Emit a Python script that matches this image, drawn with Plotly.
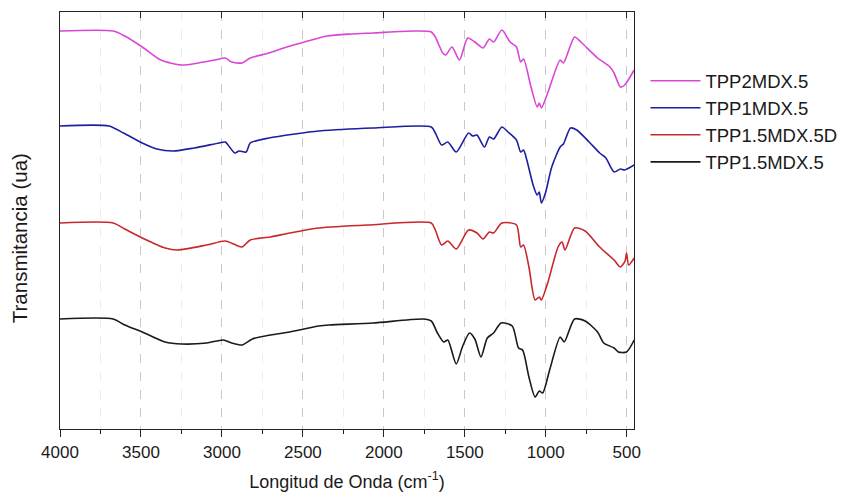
import plotly.graph_objects as go

# Wavenumber (cm^-1) and transmittance (arbitrary units, offset stacked)
wn_tpp2 = [4000, 3672, 3600, 3492, 3377, 3248, 3146, 3043, 2979, 2940, 2876, 2825, 2709, 2600, 2491, 2350, 2200, 2067,
           1810, 1707, 1682, 1636, 1618, 1579, 1533, 1482, 1438, 1387, 1348, 1322, 1271, 1220, 1181,
           1155, 1137, 1091, 1053, 1040, 1027, 988, 911, 891, 822, 783, 680, 603, 578, 539, 513, 454]
t_tpp2 = [398, 398, 393, 382, 369, 364, 366, 369, 371, 367, 366, 371, 376, 382, 387, 393, 395, 396,
          398, 397, 392, 376, 374, 382, 369, 391, 387, 381, 390, 387, 399, 387, 382,
          367, 370, 342, 322, 326, 321, 336, 369, 366, 392, 387, 371, 362, 356, 342, 344, 359]

wn_tpp1 = [4000, 3698, 3608, 3492, 3402, 3300, 3171, 3017, 2979, 2953, 2920, 2894, 2850, 2825, 2709,
           2550, 2401, 2067, 1707, 1682, 1643, 1605, 1553, 1477, 1451, 1425, 1379, 1348, 1322, 1271, 1233,
           1181, 1155, 1137, 1117, 1078, 1053, 1040, 1027, 1002, 963, 911, 891, 847, 809, 732,
           667, 629, 578, 539, 513, 454]
t_tpp1 = [303, 303, 296, 286, 280, 278, 281, 286, 287, 282, 276, 278, 277, 286, 291,
          295, 298, 301, 302, 296, 284, 287, 277, 296, 293, 294, 282, 292, 290, 302, 297,
          289, 277, 279, 269, 244, 234, 237, 226, 236, 262, 282, 285, 301, 299, 287,
          276, 271, 257, 260, 259, 264]

wn_tpp15d = [4000, 3672, 3600, 3492, 3351, 3274, 3094, 2979, 2914, 2876, 2825, 2700, 2581, 2401, 2100, 1707, 1682, 1643,
             1605, 1553, 1477, 1425, 1387, 1348, 1322, 1271, 1181, 1155, 1137, 1104, 1066, 1040, 1027,
             988, 924, 899, 881, 822, 757, 667, 578, 539, 510, 501, 488, 454]
t_tpp15d = [206, 206, 200, 191, 181, 179, 184, 188, 184, 182, 189, 192, 196, 201, 204, 206, 199, 184,
            188, 180, 199, 196, 190, 197, 196, 206, 204, 182, 184, 162, 129, 132, 129,
            146, 182, 187, 179, 201, 198, 182, 169, 162, 168, 176, 164, 171]

wn_tpp15 = [4000, 3672, 3600, 3492, 3351, 3248, 3094, 2992, 2940, 2876, 2812, 2700, 2581, 2401, 2337, 2067, 1759,
            1707, 1669, 1630, 1605, 1553, 1515, 1471, 1438, 1400, 1361, 1322, 1276, 1207, 1168, 1143,
            1104, 1066, 1040, 1019, 976, 911, 886, 822, 757, 680, 642, 578, 552, 501, 454]
t_tpp15 = [110, 110, 104, 97, 87, 85, 86, 89, 86, 84, 90, 94, 97, 103, 104, 106, 110,
           108, 96, 87, 89, 65, 82, 96, 90, 72, 91, 96, 106, 103, 81, 79,
           52, 32, 38, 36, 59, 92, 87, 110, 108, 97, 86, 81, 77, 77, 89]

names = ["TPP2MDX.5", "TPP1MDX.5", "TPP1.5MDX.5D", "TPP1.5MDX.5"]
colors = ["#d946d6", "#1c1f9e", "#c8282c", "#1a1a1a"]

FONT = "Liberation Sans, Arial, sans-serif"

fig = go.Figure()
for wn, t, name, c in zip([wn_tpp2, wn_tpp1, wn_tpp15d, wn_tpp15],
                          [t_tpp2, t_tpp1, t_tpp15d, t_tpp15], names, colors):
    fig.add_trace(go.Scatter(x=wn, y=t, mode="lines", name=name,
                             line=dict(color=c, width=1.6, shape="spline", smoothing=0.7)))

fig.update_layout(
    width=867, height=500,
    margin=dict(l=60, r=233, t=12, b=71),
    paper_bgcolor="white", plot_bgcolor="white",
    font=dict(family=FONT, color="#1a1a1a"),
    showlegend=True,
    legend=dict(x=1.02, xanchor="left", y=0.737, yanchor="middle",
                font=dict(size=18.5, family=FONT), itemwidth=50,
                bgcolor="rgba(0,0,0,0)", tracegroupgap=0),
    xaxis=dict(
        range=[4000, 455], tickmode="array",
        tickvals=[4000, 3500, 3000, 2500, 2000, 1500, 1000, 500],
        ticktext=["4000", "3500", "3000", "2500", "2000", "1500", "1000", "500"],
        ticks="outside", ticklen=7, tickwidth=1.3, tickcolor="#222",
        tickfont=dict(size=17),
        showline=True, linecolor="#222", linewidth=1.3, mirror=True,
        showgrid=True, gridcolor="#c9c9c9", griddash="dash", gridwidth=1,
        minor=dict(tickvals=[3750, 3250, 2750, 2250, 1750, 1250, 750],
                   ticks="outside", ticklen=4, tickcolor="#222", tickwidth=1.2,
                   showgrid=True, gridcolor="#ececec", gridwidth=1),
        title=dict(text="Longitud de Onda (cm<sup>-1</sup>)", font=dict(size=18), standoff=14),
        zeroline=False,
    ),
    xaxis2=dict(
        overlaying="x", side="top", matches="x", range=[4000, 455],
        tickmode="array", tickvals=[4000, 3500, 3000, 2500, 2000, 1500, 1000, 500],
        ticks="inside", ticklen=6, tickwidth=1.3, tickcolor="#222",
        showticklabels=False, showgrid=False, showline=False, zeroline=False,
    ),
    yaxis=dict(
        range=[0, 417], showticklabels=False, ticks="", showgrid=False,
        showline=True, linecolor="#222", linewidth=1.3, mirror=True, zeroline=False,
    ),
    annotations=[dict(text="Transmitancia (ua)", textangle=-90, xref="paper", yref="paper",
                      x=-0.07, y=0.457, xanchor="center", yanchor="middle",
                      showarrow=False, font=dict(size=20.5, family=FONT))],
)
# Invisible helper trace so the top mirrored-tick axis is rendered
fig.add_trace(go.Scatter(x=[4000], y=[None], xaxis="x2", showlegend=False, hoverinfo="skip"))

fig.write_html("out.html")
